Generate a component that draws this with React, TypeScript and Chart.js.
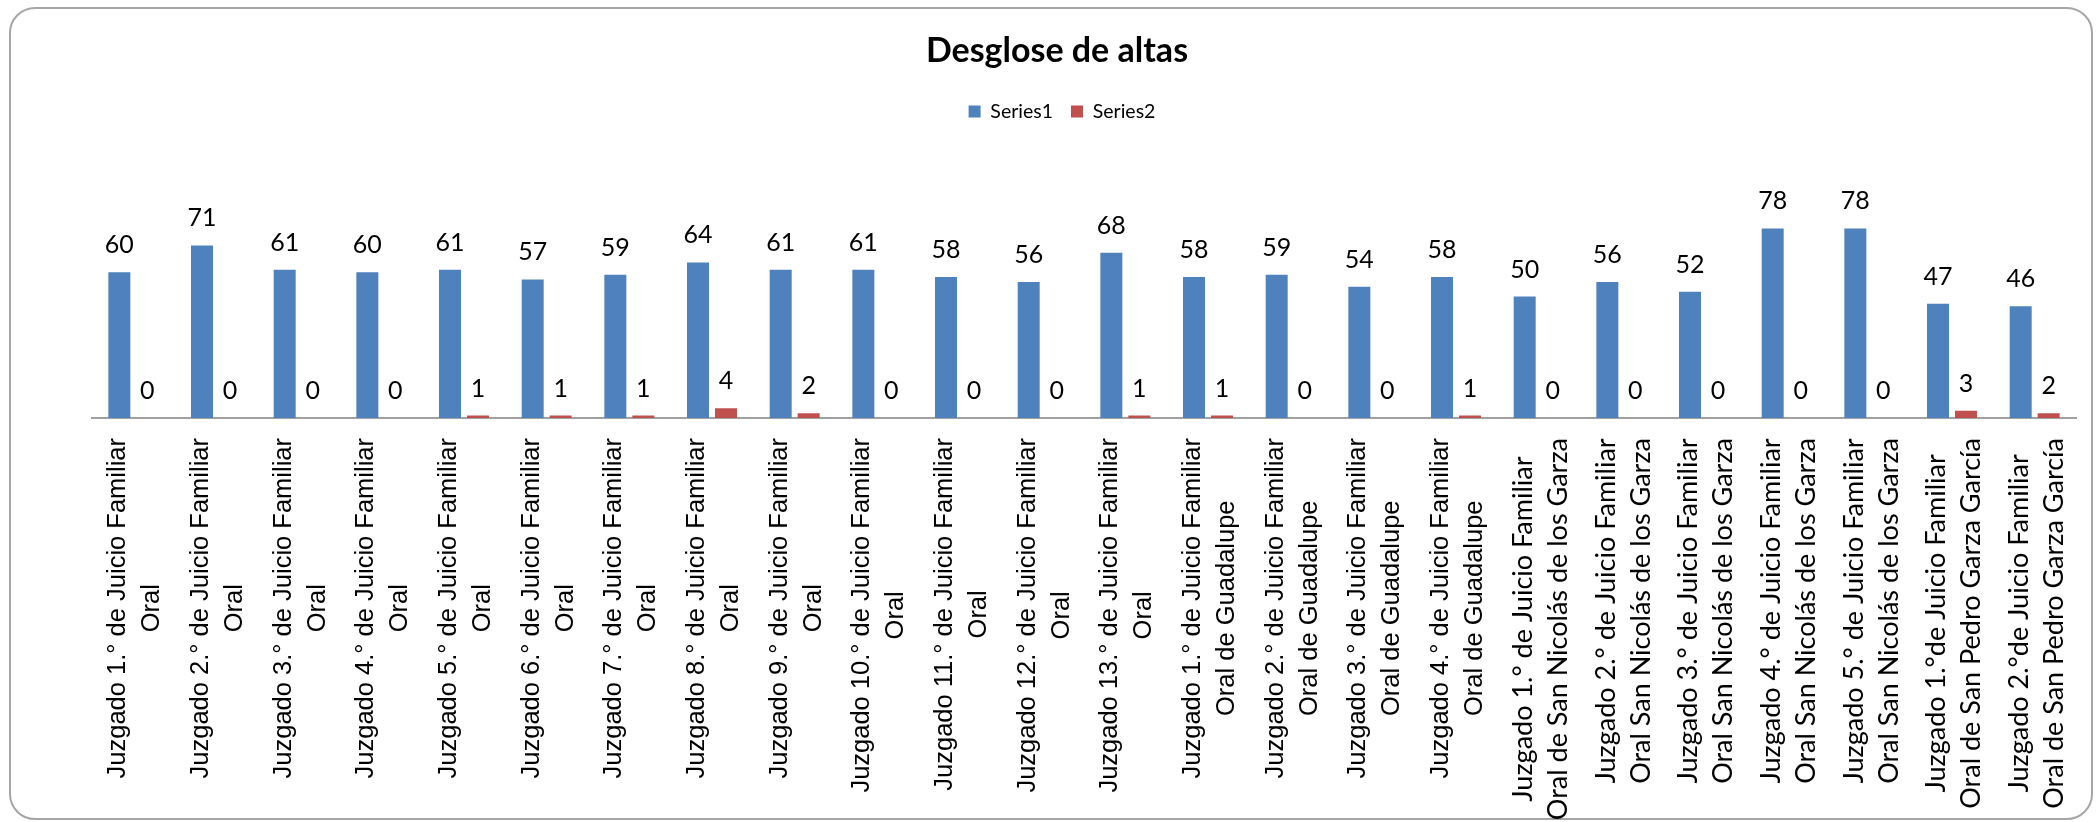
import React, { useEffect, useRef } from 'react';
import { Chart, registerables } from 'chart.js';

Chart.register(...registerables);

const chartTitle = 'Desglose de altas';

const categories: string[][] = [
  ['Juzgado 1.° de Juicio Familiar', 'Oral'],
  ['Juzgado 2.° de Juicio Familiar', 'Oral'],
  ['Juzgado 3.° de Juicio Familiar', 'Oral'],
  ['Juzgado 4.° de Juicio Familiar', 'Oral'],
  ['Juzgado 5.° de Juicio Familiar', 'Oral'],
  ['Juzgado 6.° de Juicio Familiar', 'Oral'],
  ['Juzgado 7.° de Juicio Familiar', 'Oral'],
  ['Juzgado 8.° de Juicio Familiar', 'Oral'],
  ['Juzgado 9.° de Juicio Familiar', 'Oral'],
  ['Juzgado 10.° de Juicio Familiar', 'Oral'],
  ['Juzgado 11.° de Juicio Familiar', 'Oral'],
  ['Juzgado 12.° de Juicio Familiar', 'Oral'],
  ['Juzgado 13.° de Juicio Familiar', 'Oral'],
  ['Juzgado 1.° de Juicio Familiar', 'Oral de Guadalupe'],
  ['Juzgado 2.° de Juicio Familiar', 'Oral de Guadalupe'],
  ['Juzgado 3.° de Juicio Familiar', 'Oral de Guadalupe'],
  ['Juzgado 4.° de Juicio Familiar', 'Oral de Guadalupe'],
  ['Juzgado 1.° de Juicio Familiar', 'Oral de San Nicolás de los Garza'],
  ['Juzgado 2.° de Juicio Familiar', 'Oral San Nicolás de los Garza'],
  ['Juzgado 3.° de Juicio Familiar', 'Oral San Nicolás de los Garza'],
  ['Juzgado 4.° de Juicio Familiar', 'Oral San Nicolás de los Garza'],
  ['Juzgado 5.° de Juicio Familiar', 'Oral San Nicolás de los Garza'],
  ['Juzgado 1.°de Juicio Familiar', 'Oral de San Pedro Garza García'],
  ['Juzgado 2.°de Juicio Familiar', 'Oral de San Pedro Garza García'],
];

const series1Name = 'Series1';
const series1Values = [60, 71, 61, 60, 61, 57, 59, 64, 61, 61, 58, 56, 68, 58, 59, 54, 58, 50, 56, 52, 78, 78, 47, 46];

const series2Name = 'Series2';
const series2Values = [0, 0, 0, 0, 1, 1, 1, 4, 2, 0, 0, 0, 1, 1, 0, 0, 1, 0, 0, 0, 0, 0, 3, 2];

const yMin = 0;
const yMax = 90;

// the first labels use an Arial-like face, the later ones a Calibri-like face
const ARIAL_LABEL_COUNT = 17;

export default function App() {
  const canvasRef = useRef<HTMLCanvasElement>(null);

  useEffect(() => {
    const canvas = canvasRef.current;
    if (!canvas) return;

    const valueLabels = {
      id: 'valueLabels',
      afterDatasetsDraw(chart: any) {
        const ctx = chart.ctx;
        ctx.save();
        ctx.font = '25px Lato';
        ctx.fillStyle = '#000000';
        ctx.textAlign = 'center';
        ctx.textBaseline = 'alphabetic';
        chart.data.datasets.forEach((ds: any, di: number) => {
          const meta = chart.getDatasetMeta(di);
          meta.data.forEach((el: any, i: number) => {
            ctx.fillText(String(ds.data[i]), el.x, el.y - 19);
          });
        });
        ctx.restore();
      },
    };

    const axisLabels = {
      id: 'axisLabels',
      afterDraw(chart: any) {
        const ctx = chart.ctx;
        const xs = chart.scales.x;
        const top = chart.chartArea.bottom + 20;
        (chart.data.labels as any[]).forEach((lab, i) => {
          const lines: string[] = Array.isArray(lab) ? lab : [String(lab)];
          const arial = i < ARIAL_LABEL_COUNT;
          const lh = arial ? 34 : 35;
          ctx.save();
          ctx.font = arial ? '25.5px "Liberation Sans", Arial, sans-serif' : '27px Lato, sans-serif';
          ctx.fillStyle = '#000000';
          ctx.textAlign = 'center';
          ctx.textBaseline = 'middle';
          const maxW = Math.max(...lines.map((l) => ctx.measureText(l).width));
          ctx.translate(xs.getPixelForTick(i) + 2, top);
          ctx.rotate(-Math.PI / 2);
          lines.forEach((l, j) => {
            ctx.fillText(l, -maxW / 2, (j - (lines.length - 1) / 2) * lh);
          });
          ctx.restore();
        });
      },
    };

    const headerTweaks = {
      id: 'headerTweaks',
      beforeInit(chart: any) {
        const lg = chart.legend;
        if (lg) {
          const fit = lg.fit;
          lg.fit = function () {
            fit.call(this);
            this.height += 68;
          };
        }
      },
      afterLayout(chart: any) {
        if (chart.titleBlock) chart.titleBlock.right -= 54;
        if (chart.legend) chart.legend.right -= 44;
      },
    };

    const chart = new Chart(canvas, {
      type: 'bar',
      data: {
        labels: categories,
        datasets: [
          {
            label: series1Name,
            data: series1Values,
            backgroundColor: '#4F81BD',
            borderWidth: 0,
            categoryPercentage: 0.677,
            barPercentage: 0.786,
          },
          {
            label: series2Name,
            data: series2Values,
            backgroundColor: '#C0504D',
            borderWidth: 0,
            categoryPercentage: 0.677,
            barPercentage: 0.786,
          },
        ],
      },
      options: {
        responsive: false,
        animation: false,
        devicePixelRatio: 1,
        layout: { padding: { left: 92, right: 24, top: 0, bottom: 404 } },
        plugins: {
          title: {
            display: true,
            text: chartTitle,
            color: '#000000',
            font: { family: 'Lato', size: 34, weight: 'bold' },
            padding: { top: 31, bottom: 12 },
          },
          legend: {
            display: true,
            position: 'top',
            labels: {
              color: '#000000',
              boxWidth: 12,
              boxHeight: 12,
              padding: 18,
              font: { family: 'Lato', size: 19.5 },
            },
          },
          tooltip: { enabled: false },
        },
        scales: {
          x: {
            type: 'category',
            grid: { display: false, drawTicks: false },
            border: { display: true, color: '#A0A0A0', width: 2 },
            ticks: { display: false },
          },
          y: {
            display: false,
            min: yMin,
            max: yMax,
          },
        },
      },
      plugins: [valueLabels, axisLabels, headerTweaks],
    });

    return () => chart.destroy();
  }, []);

  return (
    <div style={{ position: 'fixed', left: 0, top: 0, width: 2100, height: 822, background: '#ffffff' }}>
      <div
        style={{
          position: 'absolute',
          left: 9,
          top: 7,
          width: 2084,
          height: 813,
          border: '2px solid #A6A6A6',
          borderRadius: 26,
          boxSizing: 'border-box',
        }}
      />
      <canvas
        ref={canvasRef}
        width={2100}
        height={822}
        style={{ position: 'absolute', left: 0, top: 0, width: 2100, height: 822 }}
      />
    </div>
  );
}
